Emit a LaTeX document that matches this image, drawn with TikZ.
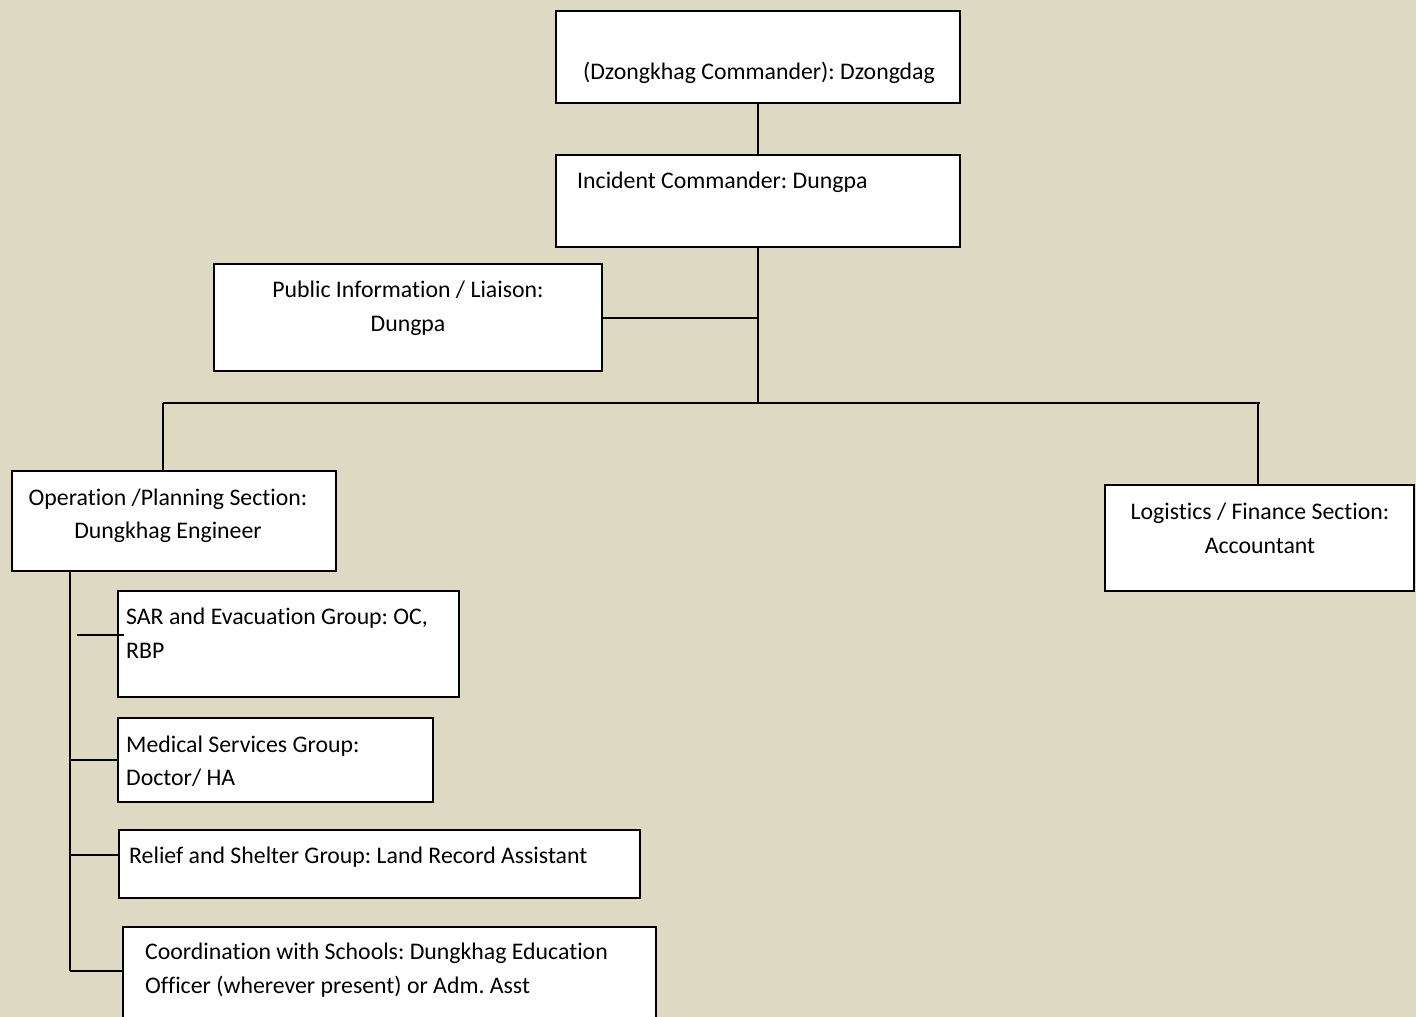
\documentclass[tikz,border=0pt]{standalone}
\usepackage{fontspec}
\setmainfont[Ligatures=NoCommon]{Carlito}
\definecolor{paper}{HTML}{DDD9C3}
\frenchspacing
\begin{document}
\begin{tikzpicture}[x=1pt,y=-1pt,
  box/.style={draw=black, line width=2pt, fill=white, inner sep=0pt, outer sep=0pt, anchor=north west},
  lbl/.style={font=\fontsize{23.8}{34}\selectfont, inner sep=0pt, anchor=base},
  lbll/.style={lbl, anchor=base west},
  link/.style={line width=2pt}]
\useasboundingbox (0,0) rectangle (1416,1017);
\clip (0,0) rectangle (1416,1017);
\fill[paper] (0,0) rectangle (1416,1017);

% boxes
\node[box, minimum width=404pt, minimum height=92pt] (cmd) at (556,11) {};
\node[box, minimum width=404pt, minimum height=92pt] (inc) at (556,155) {};
\node[box, minimum width=388pt, minimum height=107pt] (pub) at (214,264) {};
\node[box, minimum width=324pt, minimum height=100pt] (ops) at (12,471) {};
\node[box, minimum width=309pt, minimum height=106pt] (log) at (1105,485) {};
\node[box, minimum width=341pt, minimum height=106pt] (sar) at (118,591) {};
\node[box, minimum width=315pt, minimum height=84pt] (med) at (118,718) {};
\node[box, minimum width=521pt, minimum height=68pt] (rel) at (119,830) {};
\node[box, minimum width=533pt, minimum height=110pt] (sch) at (123,927) {};

% texts
\node[lbl] (cmd-t) at (759,79) {(Dzongkhag Commander): Dzongdag};
\node[lbll] (inc-t) at (577,188) {Incident Commander: Dungpa};
\node[lbl] (pub-t1) at (408,297) {Public Information / Liaison:};
\node[lbl] (pub-t2) at (408,331) {Dungpa};
\node[lbl] (ops-t1) at (168,505) {Operation /Planning Section:};
\node[lbl] (ops-t2) at (168,538) {Dungkhag Engineer};
\node[lbl] (log-t1) at (1260,519) {Logistics / Finance Section:};
\node[lbl] (log-t2) at (1260,553) {Accountant};
\node[lbll] (sar-t1) at (126,624) {SAR and Evacuation Group: OC,};
\node[lbll] (sar-t2) at (126,658) {RBP};
\node[lbll] (med-t1) at (126,752) {Medical Services Group:};
\node[lbll] (med-t2) at (126,785) {Doctor/ HA};
\node[lbll] (rel-t) at (129,863) {Relief and Shelter Group: Land Record Assistant};
\node[lbll] (sch-t1) at (145,959) {Coordination with Schools: Dungkhag Education};
\node[lbll] (sch-t2) at (145,993) {Officer (wherever present) or Adm. Asst};

% junction points
\coordinate (barL) at (163,403);
\coordinate (barR) at (1258,403);
\coordinate (hub) at (inc.south |- barL);
\coordinate (spine) at (70,571);
\coordinate (sarstub) at (77,635);
\coordinate (relj) at (70,855);
\coordinate (schj) at (70,971);

% connectors
\draw[link] (cmd.south) -- (inc.north);
\draw[link] (inc.south) -- (hub);
\draw[link] (pub.east) -- (pub.east -| inc.south);
\draw[link] (barL) -- (1260,403);
\draw[link] (barL) -- (barL |- ops.north);
\draw[link] (barR) -- (barR |- log.north);
\draw[link] (spine) -- (schj);
\draw[link] (sarstub) -- ([xshift=6pt]sarstub -| sar.west);
\draw[link] (med.west -| spine) -- (med.west);
\draw[link] (relj) -- (relj -| rel.west);
\draw[link] (schj) -- (schj -| sch.west);
\end{tikzpicture}
\end{document}
